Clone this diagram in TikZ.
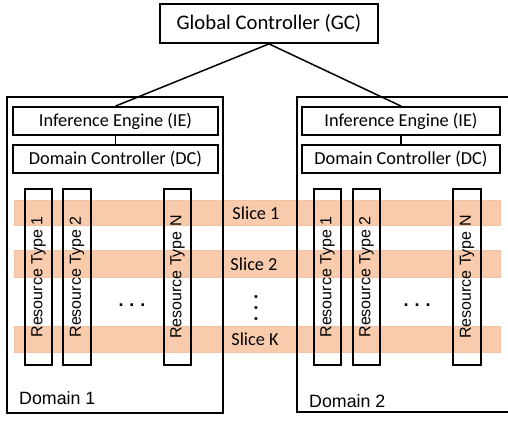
\documentclass[tikz,border=0pt]{standalone}
\usepackage{fontspec}
\setmainfont{Carlito}
\newfontfamily\arialf{Liberation Sans}
\definecolor{bandc}{HTML}{F8CBAD}
\definecolor{bandedge}{HTML}{F2C2A3}
\begin{document}
\begin{tikzpicture}[x=1pt,y=-1pt,
  box/.style={draw=black,line width=1.8pt,fill=white,inner sep=0pt,minimum height=28pt},
  wire/.style={draw=black,line width=1.5pt},
  domainbox/.style={draw=black,line width=1.7pt},
  rtbox/.style={draw=black,line width=1.9pt,inner sep=0pt},
  band/.style={fill=bandc,draw=bandedge,line width=0.6pt},
  lbl/.style={font=\fontsize{18.3}{21}\selectfont,inner sep=0pt},
  rtlbl/.style={font=\arialf\fontsize{16}{19}\selectfont,inner sep=0pt,rotate=90},
  dlbl/.style={font=\arialf\fontsize{17.8}{20}\selectfont,inner sep=0pt,anchor=west},
  dots/.style={font=\arialf\bfseries\fontsize{18}{20}\selectfont,inner sep=0pt}
]
\useasboundingbox (0,0) rectangle (508,420);
\clip (0,0) rectangle (508,420);
% bands
\foreach \t/\b in {200/225,250/277,326/352}{
  \path[band] (14,\t) rectangle (500,\b);
}
% domain boxes
\draw[domainbox] (7,97) rectangle (223,413);
\draw[domainbox] (297,97) rectangle (520,412);
% resource type boxes
\foreach \l/\r/\n/\k in {25/52/1/a,63/91/2/b,164/191/N/c,314/341/1/d,353/380/2/e,453/481/N/f}{
  \draw[rtbox] (\l,189) rectangle (\r,365);
  \node[rtlbl] (rt\k) at ({(\l+\r)/2},277) {Resource Type \n};
}
% top nodes
\node[box,minimum width=218pt,minimum height=39pt,font=\fontsize{20.7}{24}\selectfont] (gc) at (269,23.5) {Global Controller (GC)};
\node[box,minimum width=205pt,lbl] (ie1) at (115.5,121) {Inference Engine (IE)};
\node[box,minimum width=205pt,lbl] (dc1) at (115.5,159) {Domain Controller (DC)};
\node[box,minimum width=198pt,lbl] (ie2) at (401,121) {Inference Engine (IE)};
\node[box,minimum width=198pt,lbl] (dc2) at (401,159) {Domain Controller (DC)};
\draw[wire] (gc.south) -- (ie1.north);
\draw[wire] (gc.south) -- (ie2.north);
\draw[wire] (ie1) -- (dc1);
\draw[wire] (ie2) -- (dc2);
% slice labels
\node[lbl] (s1) at (256,213) {Slice 1};
\node[lbl] (s2) at (254,264) {Slice 2};
\node[lbl] (sk) at (255,339) {Slice K};
\node[dots,rotate=90] (vd) at (256,307.5) {.\,\,.\,\,.};
% horizontal dots
\node[dots] (hd1) at (132,305) {.\,\,.\,\,.};
\node[dots] (hd2) at (417,305) {.\,\,.\,\,.};
% domain labels
\node[dlbl] (d1) at (19,398) {Domain 1};
\node[dlbl] (d2) at (309,401) {Domain 2};
\end{tikzpicture}
\end{document}
